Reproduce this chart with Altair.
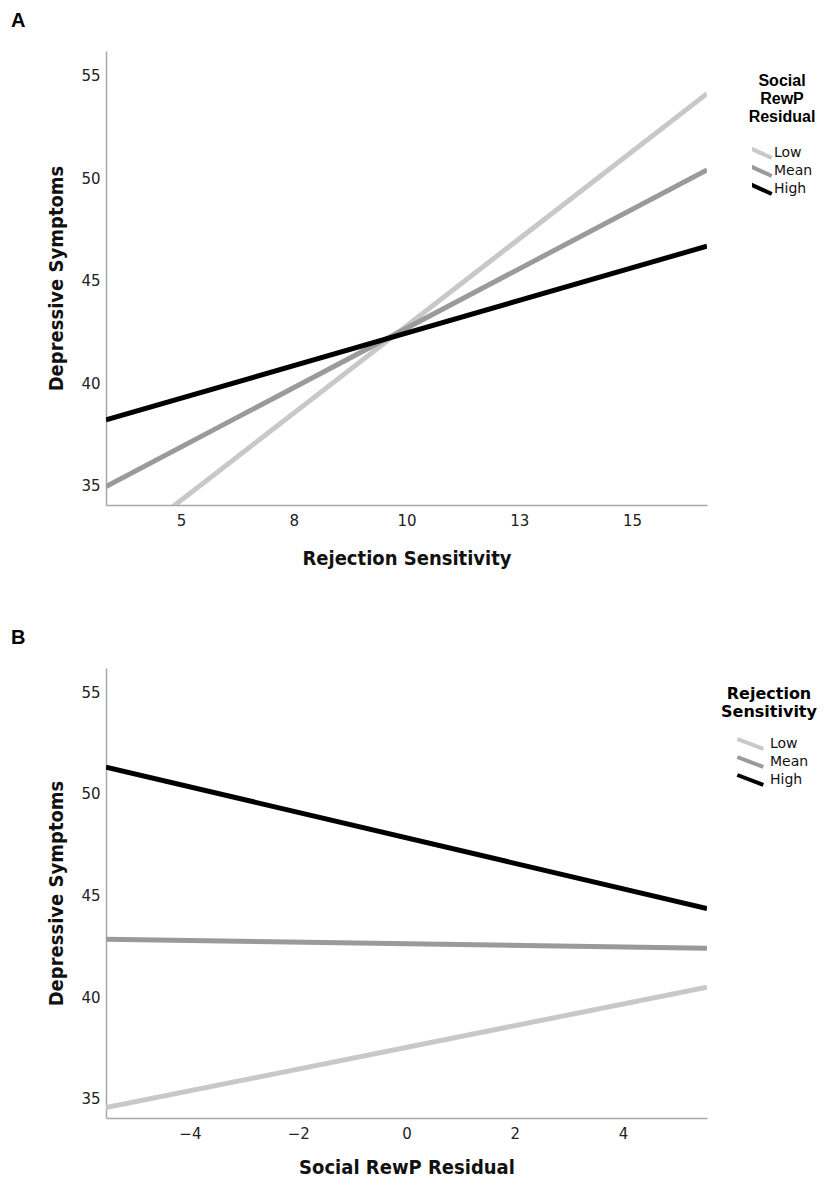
import altair as alt
import pandas as pd

groups = ["Low", "Mean", "High"]
colors = ["#c8c8c8", "#9a9a9a", "#000000"]

# Panel A: x = Rejection Sensitivity
a_x = [3.34, 16.66]
a_low = [31.45, 54.12]
a_mean = [34.95, 50.40]
a_high = [38.20, 46.68]
a_x_ticks = [5, 7.5, 10, 12.5, 15]

# Panel B: x = Social RewP Residual
b_x = [-5.55, 5.55]
b_low = [34.56, 40.49]
b_mean = [42.85, 42.40]
b_high = [51.32, 44.36]
b_x_ticks = [-4, -2, 0, 2, 4]

y_ticks = [35, 40, 45, 50, 55]
y_domain = [34.05, 56.2]


def make_df(xs, low, mean, high):
    rows = []
    for g, vals in zip(groups, [low, mean, high]):
        for xv, yv in zip(xs, vals):
            rows.append({"x": xv, "y": yv, "group": g})
    return pd.DataFrame(rows)


df_a = make_df(a_x, a_low, a_mean, a_high)
df_b = make_df(b_x, b_low, b_mean, b_high)


def panel(df, xdom, xticks, xfmt, xtitle, xtpad, ltitle, lfont, lx, ly, ltpad,
          sym, loff, label, h):
    legend = alt.Legend(
        title=ltitle,
        orient="none",
        legendX=lx,
        legendY=ly,
        titleFont=lfont,
        titleFontSize=16,
        titleFontWeight="bold",
        titleColor="#000",
        titleAlign="center",
        titleAnchor="middle",
        titleLineHeight=18,
        titlePadding=ltpad,
        labelFont="DejaVu Sans",
        labelFontSize=14,
        labelColor="#111",
        labelOffset=loff,
        symbolType=sym,
        symbolSize=182,
        symbolStrokeWidth=4,
        clipHeight=18,
        rowPadding=0,
    )
    if xfmt:
        xaxis = alt.Axis(values=xticks, title=xtitle, format=xfmt, titlePadding=xtpad)
    else:
        xaxis = alt.Axis(values=xticks, title=xtitle, titlePadding=xtpad)
    return (
        alt.Chart(df)
        .mark_line(strokeWidth=5, clip=True)
        .encode(
            x=alt.X("x:Q", scale=alt.Scale(domain=xdom, nice=False, zero=False), axis=xaxis),
            y=alt.Y(
                "y:Q",
                scale=alt.Scale(domain=y_domain, nice=False, zero=False),
                axis=alt.Axis(values=y_ticks, title="Depressive Symptoms"),
            ),
            color=alt.Color(
                "group:N",
                sort=groups,
                scale=alt.Scale(domain=groups, range=colors),
                legend=legend,
            ),
        )
        .properties(
            width=601,
            height=h,
            title=alt.TitleParams(
                text=label,
                anchor="start",
                frame="group",
                font="Liberation Sans",
                fontSize=20,
                fontWeight="bold",
                color="#000",
                dx=-95,
                offset=20,
            ),
        )
    )


chart_a = panel(
    df_a, a_x, a_x_ticks, ".0f", "Rejection Sensitivity", 20,
    ["Social", "RewP", "Residual"], "Liberation Sans", 643, 22, 19,
    "M-1.65,-0.74L1.6,0.74", 4, "A", 454,
)
chart_b = panel(
    df_b, b_x, b_x_ticks, None, "Social RewP Residual", 16,
    ["Rejection", "Sensitivity"], "DejaVu Sans", 615, 18, 15,
    "M-0.1,-0.74L3.75,0.74", 23, "B", 450,
)

chart = (
    alt.vconcat(chart_a, chart_b, spacing=60)
    .resolve_scale(color="independent")
    .resolve_legend(color="independent")
    .properties(padding={"top": 3, "left": 3, "right": 0, "bottom": 0})
    .configure_view(stroke=None)
    .configure_axis(
        domainColor="#a8a8a8",
        domainWidth=1.5,
        ticks=False,
        grid=False,
        labelFont="DejaVu Sans",
        labelFontSize=15,
        labelColor="#222",
        labelPadding=6,
        titleFont="DejaVu Sans Condensed",
        titleFontSize=20,
        titleFontWeight="bold",
        titleColor="#111",
        titlePadding=14,
    )
    .configure_axisX(labelPadding=8)
)

chart.save("out.html", embed_options={"renderer": "svg", "actions": False})
